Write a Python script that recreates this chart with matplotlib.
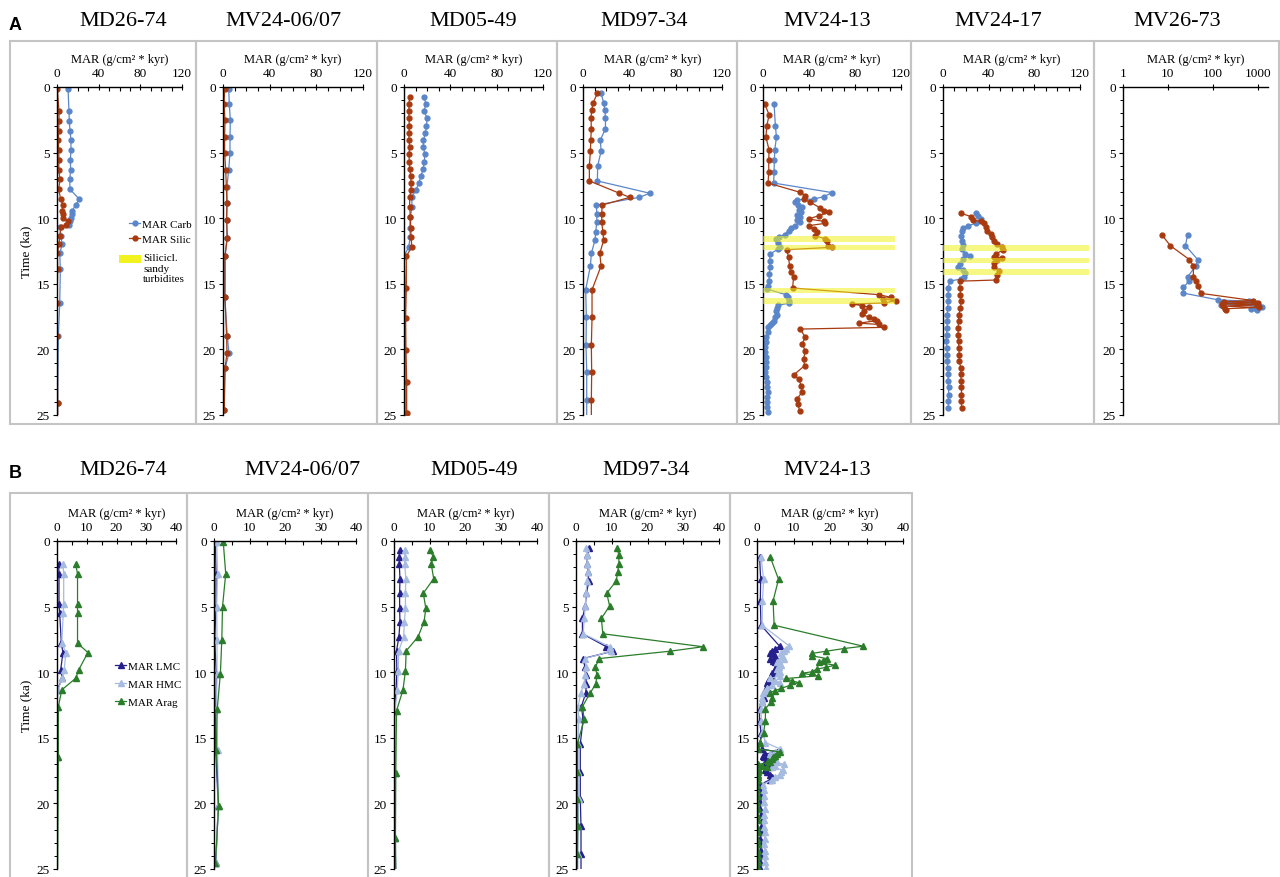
import matplotlib.pyplot as plt
from matplotlib.patches import Rectangle
from matplotlib.lines import Line2D
from matplotlib.ticker import MultipleLocator, NullLocator

plt.rcParams['font.family'] = ['Liberation Serif', 'DejaVu Serif']

# =============================================
# DATA  (time in ka, MAR in g/cm2*kyr)
# =============================================
core_names_a = ['MD26-74', 'MV24-06/07', 'MD05-49', 'MD97-34', 'MV24-13', 'MV24-17', 'MV26-73']
core_names_b = ['MD26-74', 'MV24-06/07', 'MD05-49', 'MD97-34', 'MV24-13']

# --- panel A : carbonate / siliciclastic MAR ---
md2674_t = [0.15, 1.85, 2.6, 3.35, 4.05, 4.8, 5.55, 6.3, 7.05, 7.8, 8.55, 9.0, 9.45, 9.7, 9.95,
            10.25, 10.5, 10.7, 11.35, 12.0, 12.65, 13.9, 16.5, 19.0, 24.1, 25.5]
md2674_carb = [10.6, 11.5, 11.8, 12.5, 13.4, 13.4, 12.8, 13.1, 12.2, 12.5, 21.4, 17.9, 14.4, 14.0, 13.5,
               12.5, 11.5, 3.2, 3.5, 5.1, 2.6, 3.2, 2.6, 1.3, 0.6, 0.6]
md2674_silic = [0.3, 1.9, 1.9, 1.6, 1.3, 1.6, 1.9, 1.6, 2.9, 1.6, 3.5, 5.8, 4.8, 5.4, 5.8,
                10.2, 8.6, 3.8, 2.6, 1.9, 0.3, 0.6, 0.0, 0.3, 0.6, 0.6]

mv2406_t = [0.15, 1.3, 2.55, 3.8, 5.05, 6.3, 7.6, 8.85, 10.1, 11.5, 12.9, 16.0, 19.0, 20.3, 21.45, 24.6]
mv2406_carb = [4.9, 5.4, 6.3, 6.0, 6.0, 4.9, 3.4, 3.4, 3.1, 3.4, 1.7, 1.4, 3.7, 5.1, 1.7, 0.9]
mv2406_silic = [1.4, 0.9, 1.7, 1.4, 1.4, 2.3, 2.9, 3.4, 3.1, 3.7, 1.7, 1.7, 3.1, 3.4, 1.7, 1.1]

md0549_t = [0.76, 1.27, 1.85, 2.39, 2.95, 3.5, 4.04, 4.55, 5.13, 5.69, 6.25, 6.78, 7.32, 7.85, 8.38,
            9.12, 9.93, 10.72, 11.4, 12.2, 12.9, 15.3, 17.6, 20.05, 22.5, 24.87, 25.5]
md0549_carb = [17.4, 18.8, 17.4, 20.0, 19.4, 18.5, 16.8, 16.8, 17.9, 17.6, 16.5, 14.7, 12.7, 10.4, 6.7,
               6.9, 5.5, 4.9, 5.5, 4.0, 0.0, 1.2, 1.0, 1.2, 1.5, 1.5, 1.5]
md0549_silic = [4.9, 4.3, 4.3, 4.3, 4.6, 4.3, 4.3, 4.9, 4.3, 4.6, 4.9, 5.8, 6.1, 6.1, 4.9,
                4.9, 5.5, 5.8, 6.1, 6.7, 2.0, 2.0, 1.4, 1.7, 2.3, 2.3, 2.3]

md9734_t = [0.48, 1.22, 1.75, 2.36, 3.18, 4.04, 4.9, 6.0, 7.16, 8.1, 8.41, 9.0, 9.68, 10.31, 11.03,
            11.66, 12.68, 13.64, 15.45, 17.56, 19.7, 21.75, 23.86, 25.5]
md9734_carb = [15.6, 17.9, 18.8, 19.4, 19.4, 15.0, 15.6, 12.7, 12.4, 57.8, 48.6, 11.6, 11.9, 11.9, 11.0,
               10.4, 7.2, 6.4, 2.3, 2.9, 2.6, 3.2, 3.2, 3.2]
md9734_silic = [12.4, 8.7, 7.5, 6.9, 7.2, 6.7, 6.4, 5.5, 5.5, 31.5, 40.5, 16.5, 16.2, 16.2, 17.1,
                17.9, 14.5, 15.6, 7.8, 7.8, 7.2, 7.5, 7.2, 7.2]

mv2413_carb_t = [1.27, 3.0, 3.84, 4.8, 5.56, 6.45, 7.32, 8.05, 8.36, 8.54, 8.59, 8.79, 8.97, 9.17, 9.38,
                 9.55, 9.73, 9.93, 10.14, 10.31, 10.57, 10.75, 10.95, 11.25, 11.41, 11.59, 11.92, 12.17,
                 12.35, 12.73, 13.24, 13.74, 14.25, 14.76, 15.14, 15.4, 15.83, 16.03, 16.29, 16.49, 16.62,
                 16.84, 17.1, 17.35, 17.56, 17.81, 18.01, 18.11, 18.32, 18.7, 19.08, 19.46, 19.84, 20.22,
                 20.6, 20.99, 21.37, 21.75, 22.13, 22.51, 22.89, 23.27, 23.65, 24.03, 24.42, 24.8]
mv2413_carb = [9.6, 10.8, 11.7, 10.2, 9.9, 9.6, 9.3, 60.1, 52.8, 44.1, 29.5, 27.4, 30.4, 33.9, 30.9,
               33.3, 29.5, 31.8, 29.8, 31.8, 27.4, 24.5, 22.2, 18.7, 14.0, 11.1, 12.8, 14.9,
               13.4, 6.1, 5.8, 6.1, 5.5, 5.3, 4.7, 3.5, 19.9, 21.6, 22.2, 22.2, 13.4,
               12.0, 11.1, 12.3, 10.5, 9.9, 8.2, 6.1, 4.7, 4.1, 2.9, 2.3, 1.8, 2.0,
               2.6, 2.6, 2.3, 2.0, 2.6, 3.2, 3.5, 4.1, 3.8, 3.5, 3.8, 4.1]
mv2413_silic_t = [1.27, 2.13, 3.0, 3.84, 4.8, 5.56, 6.45, 7.32, 8.03, 8.28, 8.54, 8.79, 9.22, 9.43, 9.55,
                  9.81, 10.06, 10.24, 10.39, 10.57, 10.82, 11.08, 11.33, 11.58, 11.71, 12.09, 12.22,
                  12.4, 12.98, 13.62, 14.13, 14.51, 15.32, 15.83, 16.03, 16.16, 16.29, 16.46, 16.54,
                  16.67, 16.79, 17.05, 17.3, 17.56, 17.68, 17.81, 18.0, 18.1, 18.32, 18.45, 19.08,
                  19.59, 20.1, 20.73, 21.24, 21.95, 22.26, 22.76, 23.27, 23.78, 24.16, 24.67]
mv2413_silic = [1.5, 5.3, 3.2, 2.6, 5.3, 5.0, 5.0, 4.4, 32.4, 36.8, 35.3, 41.2, 49.9, 52.8, 57.2,
                48.5, 39.7, 52.8, 54.3, 39.7, 44.1, 47.0, 45.0, 54.3, 55.8, 56.6, 59.6,
                20.7, 22.2, 23.1, 24.2, 26.6, 25.7, 101, 111, 104, 115.6, 105.4, 77.7,
                86.4, 92.3, 87.9, 85.8, 92.3, 96.6, 98.7, 83.5, 101, 105.4, 32.4, 36.8,
                33.9, 36.8, 35.3, 36.2, 26.6, 30.9, 33.3, 33.9, 29.5, 30.4, 31.8]

mv2417_carb_t = [9.6, 9.8, 10.06, 10.4, 10.57, 10.75, 10.95, 11.33, 11.71, 12.02, 12.35, 12.73, 12.88,
                 13.1, 13.49, 13.7, 13.95, 14.15, 14.46, 14.63, 14.8, 15.32, 15.83, 16.34, 16.84, 17.35,
                 17.86, 18.37, 18.88, 19.39, 19.9, 20.4, 20.9, 21.4, 21.9, 22.4, 22.9, 23.45, 23.96, 24.47]
mv2417_carb = [28.9, 31.0, 33.3, 28.9, 21.7, 17.9, 16.8, 15.9, 16.8, 17.4, 16.8, 19.7, 23.7,
               17.4, 14.5, 13.0, 17.4, 19.7, 18.8, 15.9, 5.8, 4.6, 4.6, 4.6, 4.0, 3.8,
               3.8, 3.5, 3.2, 2.9, 3.5, 3.8, 3.8, 4.0, 4.3, 4.6, 4.9, 4.9, 4.6, 4.6]
mv2417_silic_t = [9.63, 9.88, 10.14, 10.24, 10.4, 10.7, 10.95, 11.2, 11.46, 11.71, 11.97, 12.22, 12.42,
                  12.73, 12.93, 13.03, 13.19, 13.44, 13.7, 14.0, 14.3, 14.71, 14.8, 15.32, 15.83, 16.34,
                  16.84, 17.35, 17.86, 18.37, 18.88, 19.39, 19.9, 20.4, 20.9, 21.4, 21.9, 22.4, 22.9,
                  23.45, 23.96, 24.47]
mv2417_silic = [15.9, 24.6, 26.0, 33.3, 36.1, 37.6, 38.2, 41.9, 42.8, 44.8, 47.7, 51.5, 52.6,
                46.3, 44.8, 52.0, 47.7, 44.8, 44.8, 49.2, 47.7, 46.8, 14.5, 15.0, 15.3, 15.9,
                15.3, 13.9, 13.6, 13.3, 13.3, 13.6, 13.9, 14.2, 14.2, 15.6, 15.6, 15.9, 16.2,
                16.2, 15.9, 16.5]

mv2673_carb_t = [11.28, 12.09, 13.16, 13.62, 14.46, 14.8, 15.27, 15.7, 16.23, 16.33, 16.42, 16.5,
                 16.58, 16.67, 16.76, 16.84, 16.93, 17.02]
mv2673_carb = [27.4, 24.6, 46.4, 42, 27.8, 29.8, 22.2, 21.5, 134, 650, 170, 900,
               150, 1050, 1250, 880, 700, 950]
mv2673_silic_t = [11.28, 12.09, 13.16, 13.62, 14.46, 14.8, 15.14, 15.73, 16.28, 16.36, 16.44, 16.52,
                  16.6, 16.7, 16.8, 16.9, 17.0]
mv2673_silic = [7.4, 11.3, 30.3, 37, 37, 42, 46.4, 55, 800, 180, 1000, 160,
                950, 170, 1050, 190, 200]

# siliciclastic sandy turbidite layers (top, base in ka)
mv2413_turb_top = [11.38, 12.04, 15.32, 16.10]
mv2413_turb_base = [11.79, 12.40, 15.73, 16.54]
mv2417_turb_top = [12.04, 13.00, 13.87]
mv2417_turb_base = [12.47, 13.44, 14.30]

# --- panel B : LMC / HMC / aragonite MAR ---
b_md2674_t = [1.73, 2.54, 4.82, 5.51, 7.8, 8.5, 9.82, 10.46, 11.35, 12.64, 16.45, 25.5]
b_md2674_lmc = [0.56, 0.67, 0.67, 0.9, 1.46, 2.0, 1.24, 1.8, 0.1, 0.0, 0.1, 0.1]
b_md2674_hmc = [2.0, 2.25, 2.25, 2.1, 1.6, 3.0, 2.4, 1.8, 0.3, 0.0, 0.2, 0.1]
b_md2674_arag = [6.3, 6.9, 6.9, 6.9, 6.9, 10.4, 7.3, 6.3, 1.6, 0.45, 0.45, 0.2]

b_mv2406_t = [0.05, 2.49, 5.0, 7.54, 10.1, 12.84, 15.94, 20.2, 24.57]
b_mv2406_lmc = [0.4, 0.57, 0.57, 0.2, 0.66, 0.5, 0.5, 1.2, 0.5]
b_mv2406_hmc = [0.75, 1.0, 0.75, 0.85, 0.85, 0.66, 1.0, 1.2, 0.5]
b_mv2406_arag = [2.6, 3.3, 2.4, 2.2, 1.8, 0.9, 0.66, 1.3, 0.4]

b_md0549_t = [0.66, 1.22, 1.73, 2.87, 3.98, 5.13, 6.17, 7.31, 8.38, 9.9, 11.37, 12.94, 17.7, 22.6, 25.5]
b_md0549_lmc = [1.57, 1.5, 1.47, 1.67, 1.57, 1.57, 1.67, 1.37, 0.7, 0.8, 0.6, 0.0, 0.2, 0.3, 0.5]
b_md0549_hmc = [3.0, 3.0, 3.0, 3.3, 3.2, 3.2, 2.9, 2.7, 1.3, 1.2, 0.9, 0.3, 0.4, 0.4, 0.5]
b_md0549_arag = [10.0, 11.0, 10.4, 11.1, 8.2, 8.9, 8.4, 6.7, 3.4, 3.2, 2.5, 0.7, 0.5, 0.4, 0.5]

b_md9734_t = [0.51, 1.1, 1.72, 2.35, 3.07, 3.98, 4.95, 5.9, 7.07, 8.06, 8.4, 8.96, 9.62, 10.25, 10.9,
              11.62, 12.62, 13.6, 15.45, 17.62, 19.67, 21.75, 23.86, 25.5]
b_md9734_lmc = [3.6, 3.2, 3.1, 3.3, 3.6, 2.9, 2.6, 1.8, 1.8, 8.5, 10.3, 2.0, 2.5, 2.7, 2.9,
                2.7, 1.5, 2.0, 1.2, 1.2, 1.2, 1.4, 1.4, 1.4]
b_md9734_hmc = [2.7, 3.1, 3.2, 3.4, 3.1, 2.8, 2.6, 2.3, 2.0, 9.5, 9.8, 2.5, 2.8, 2.6, 2.2,
                1.3, 0.6, 0.8, 0.6, 0.6, 0.7, 0.6, 0.5, 0.5]
b_md9734_arag = [11.5, 12.0, 12.0, 11.7, 11.2, 8.6, 9.4, 7.1, 7.5, 35.5, 26.3, 6.5, 5.4, 5.9, 5.5,
                 3.9, 1.8, 2.3, 0.4, 0.4, 0.4, 0.5, 0.4, 0.4]

b_mv2413_t = [1.2, 2.92, 4.57, 6.42,
              8.02, 8.2, 8.4, 8.57, 8.76, 8.96, 9.12, 9.26, 9.47, 9.62,
              9.77, 9.97, 10.08, 10.28, 10.48, 10.65, 10.79, 11.0, 11.24, 11.4,
              11.55, 11.93, 12.26, 12.8, 13.7, 14.6, 15.36, 15.86, 16.07, 16.24,
              16.37, 16.5, 16.62, 16.75, 16.88, 17.03, 17.15, 17.26, 17.44, 17.64,
              17.8, 18.0, 18.2, 18.6, 19.0, 19.4, 19.9, 20.4, 20.9, 21.3,
              21.8, 22.2, 22.7, 23.1, 23.6, 24.0, 24.5, 24.9]
b_mv2413_lmc = [0.7, 1.0, 0.9, 1.1,
                6.2, 5.0, 4.1, 3.5, 5.0, 3.6, 4.4, 4.8, 5.5, 5.2,
                5.0, 4.6, 4.1, 3.8, 3.6, 3.0, 2.7, 2.9, 2.5, 2.3,
                2.0, 1.8, 1.4, 0.7, 0.7, 1.1, 0.9, 1.4, 5.5, 2.3,
                1.6, 2.0, 3.0, 4.6, 2.5, 1.8, 2.5, 3.2, 2.2, 2.7,
                3.5, 4.1, 3.5, 0.7, 0.9, 1.1, 0.8, 0.9, 1.0, 1.4,
                1.2, 1.1, 0.9, 0.9, 1.0, 1.1, 0.9, 0.9]
b_mv2413_hmc = [1.1, 1.8, 1.5, 1.4,
                8.9, 8.0, 7.3, 6.5, 6.8, 7.3, 6.0, 5.5, 6.5, 6.0,
                5.5, 6.2, 5.8, 6.4, 3.6, 5.0, 6.4, 4.0, 2.7, 2.2,
                1.6, 1.5, 1.4, 1.1, 1.2, 1.5, 2.3, 6.4, 5.0, 3.5,
                4.4, 3.8, 3.5, 4.6, 5.5, 7.3, 5.0, 4.1, 7.1, 6.5,
                6.2, 5.0, 4.0, 1.6, 1.8, 1.8, 2.0, 2.3, 2.0, 1.8,
                2.0, 2.3, 2.1, 2.0, 2.2, 2.3, 2.1, 2.5]
b_mv2413_arag = [3.6, 5.9, 4.4, 4.7,
                 29.1, 23.7, 19.0, 15.0, 15.2, 19.1, 18.0, 17.1, 21.4, 19.0,
                 16.4, 15.0, 12.3, 16.6, 8.0, 9.5, 11.4, 9.0, 6.6, 5.0,
                 3.5, 4.1, 3.8, 2.3, 2.3, 1.8, 0.7, 0.2, 6.4, 5.5,
                 5.0, 4.5, 4.1, 3.0, 3.5, 0.2, 1.5, 2.7, 0.5, 0.3,
                 0.2, 0.3, 0.2, 0.1, 0.0, 0.2, 0.1, 0.2, 0.1, 0.2,
                 0.1, 0.2, 0.1, 0.2, 0.3, 0.2, 0.3, 0.2]

# =============================================
# STYLE
# =============================================
CARB = '#5b86c9'
SILIC = '#a83a10'
LMC = '#25208c'
HMC = '#a6bbe0'
ARAG = '#2b7d2b'
YELLOW = '#f2f21e'
BOX = '#c4c4c4'

W, H = 1280, 878
fig = plt.figure(figsize=(W / 100, H / 100), dpi=100)


def add_ax(x0, x1, ytop, ybot):
    return fig.add_axes([x0 / W, 1 - ybot / H, (x1 - x0) / W, (ybot - ytop) / H])


def style(ax, xmax, major, minor, ylabel=False):
    ax.set_ylim(25, 0)
    if xmax is not None:
        ax.set_xlim(0, xmax)
        ax.xaxis.set_major_locator(MultipleLocator(major))
        ax.xaxis.set_minor_locator(MultipleLocator(minor))
    ax.yaxis.set_major_locator(MultipleLocator(5))
    ax.yaxis.set_minor_locator(MultipleLocator(1))
    ax.xaxis.tick_top()
    ax.xaxis.set_label_position('top')
    ax.set_xlabel('MAR (g/cm² * kyr)', fontsize=9, labelpad=4)
    ax.spines[['right', 'bottom']].set_visible(False)
    ax.spines[['left', 'top']].set_linewidth(1.0)
    ax.tick_params(axis='x', which='major', direction='inout', length=5, width=0.8, labelsize=9.5, pad=3)
    ax.tick_params(axis='x', which='minor', direction='in', length=3, width=0.8)
    ax.tick_params(axis='y', which='major', direction='out', length=3, width=0.8, labelsize=9.5, pad=2)
    ax.tick_params(axis='y', which='minor', direction='out', length=2, width=0.7)
    ax.patch.set_alpha(0)
    if ylabel:
        ax.set_ylabel('Time (ka)', fontsize=9.5, labelpad=3)


def box(x0, x1, y0, y1):
    fig.add_artist(Rectangle((x0 / W, 1 - y1 / H), (x1 - x0) / W, (y1 - y0) / H,
                             transform=fig.transFigure, fill=False, ec=BOX, lw=1.5))


def carb_silic(ax, tc, vc, ts, vs):
    ax.plot(vc, tc, color=CARB, marker='o', ms=3.5, lw=0.9, zorder=2)
    ax.plot(vs, ts, color=SILIC, marker='o', ms=3.5, lw=0.9, zorder=2)


def turbidites(ax, tops, bases, length):
    centers = [(a + b) / 2 for a, b in zip(tops, bases)]
    heights = [b - a for a, b in zip(tops, bases)]
    ax.barh(centers, [length] * len(tops), height=heights, left=0,
            color=YELLOW, alpha=0.55, zorder=3, clip_on=False, lw=0)


def calcite(ax, t, lmc, hmc, arag):
    ax.plot(lmc, t, color=LMC, marker='^', ms=4, lw=0.9, zorder=2)
    ax.plot(hmc, t, color=HMC, marker='^', ms=4, lw=0.9, zorder=2)
    ax.plot(arag, t, color=ARAG, marker='^', ms=4, lw=0.9, zorder=2)


# =============================================
# PANEL A
# =============================================
a_edges = [10, 196, 377, 557, 737, 911, 1094, 1279]
for i in range(len(a_edges) - 1):
    box(a_edges[i], a_edges[i + 1], 42, 425)

a_axes_x = [(57, 182), (223, 363), (404, 543), (583, 722), (763, 901), (943, 1080), (1123, 1268)]
a_title_x = [123, 283, 473, 644, 827, 998, 1177]
a_series = [
    (md2674_t, md2674_carb, md2674_t, md2674_silic),
    (mv2406_t, mv2406_carb, mv2406_t, mv2406_silic),
    (md0549_t, md0549_carb, md0549_t, md0549_silic),
    (md9734_t, md9734_carb, md9734_t, md9734_silic),
    (mv2413_carb_t, mv2413_carb, mv2413_silic_t, mv2413_silic),
    (mv2417_carb_t, mv2417_carb, mv2417_silic_t, mv2417_silic),
    (mv2673_carb_t, mv2673_carb, mv2673_silic_t, mv2673_silic),
]

for i, name in enumerate(core_names_a):
    x0, x1 = a_axes_x[i]
    ax = add_ax(x0, x1, 88, 416)
    carb_silic(ax, *a_series[i])
    if name == 'MV26-73':
        ax.set_xscale('log')
        ax.set_xlim(1, 1700)
        ax.set_xticks([1, 10, 100, 1000])
        ax.set_xticklabels(['1', '10', '100', '1000'])
        ax.xaxis.set_minor_locator(NullLocator())
        style(ax, None, None, None)
    else:
        style(ax, 120, 40, 10, ylabel=(i == 0))
    if name == 'MV24-13':
        turbidites(ax, mv2413_turb_top, mv2413_turb_base, 115)
    if name == 'MV24-17':
        turbidites(ax, mv2417_turb_top, mv2417_turb_base, 128)
    fig.text(a_title_x[i] / W, 1 - 21 / H, name, fontsize=16, ha='center', va='center')

fig.text(9 / W, 1 - 25 / H, 'A', fontsize=13, fontweight='bold', family='Liberation Sans', va='center')

# legend A
h_carb = Line2D([], [], color=CARB, marker='o', ms=3.5, lw=0.9)
h_silic = Line2D([], [], color=SILIC, marker='o', ms=3.5, lw=0.9)
fig.legend([h_carb, h_silic], ['MAR Carb', 'MAR Silic'], loc='upper left',
           bbox_to_anchor=(129 / W, 1 - 220 / H), frameon=False, fontsize=8,
           handlelength=1.0, handletextpad=0.15, labelspacing=0.5, borderpad=0, borderaxespad=0)
fig.add_artist(Rectangle((119 / W, 1 - 264 / H), 22 / W, 8 / H, transform=fig.transFigure,
                         color=YELLOW, lw=0))
fig.text(143 / W, 1 - 254 / H, 'Silicicl.\nsandy\nturbidites', fontsize=8, va='top', linespacing=1.25)

# =============================================
# PANEL B
# =============================================
b_edges = [10, 187, 368, 549, 730, 912]
for i in range(len(b_edges) - 1):
    box(b_edges[i], b_edges[i + 1], 494, 880)

b_axes_x = [(57, 176), (214, 356), (394, 537), (576, 719), (757, 903)]
b_title_x = [123, 302, 474, 646, 827]
b_series = [
    (b_md2674_t, b_md2674_lmc, b_md2674_hmc, b_md2674_arag),
    (b_mv2406_t, b_mv2406_lmc, b_mv2406_hmc, b_mv2406_arag),
    (b_md0549_t, b_md0549_lmc, b_md0549_hmc, b_md0549_arag),
    (b_md9734_t, b_md9734_lmc, b_md9734_hmc, b_md9734_arag),
    (b_mv2413_t, b_mv2413_lmc, b_mv2413_hmc, b_mv2413_arag),
]

for i, name in enumerate(core_names_b):
    x0, x1 = b_axes_x[i]
    ax = add_ax(x0, x1, 542, 870)
    calcite(ax, *b_series[i])
    style(ax, 40, 10, 5, ylabel=(i == 0))
    fig.text(b_title_x[i] / W, 1 - 471 / H, name, fontsize=16, ha='center', va='center')

fig.text(9 / W, 1 - 474 / H, 'B', fontsize=13, fontweight='bold', family='Liberation Sans', va='center')

h_lmc = Line2D([], [], color=LMC, marker='^', ms=4, lw=0.9)
h_hmc = Line2D([], [], color=HMC, marker='^', ms=4, lw=0.9)
h_arag = Line2D([], [], color=ARAG, marker='^', ms=4, lw=0.9)
fig.legend([h_lmc, h_hmc, h_arag], ['MAR LMC', 'MAR HMC', 'MAR Arag'], loc='upper left',
           bbox_to_anchor=(115 / W, 1 - 662 / H), frameon=False, fontsize=8,
           handlelength=1.0, handletextpad=0.15, labelspacing=0.75, borderpad=0, borderaxespad=0)

plt.savefig('out.png', dpi=100)
